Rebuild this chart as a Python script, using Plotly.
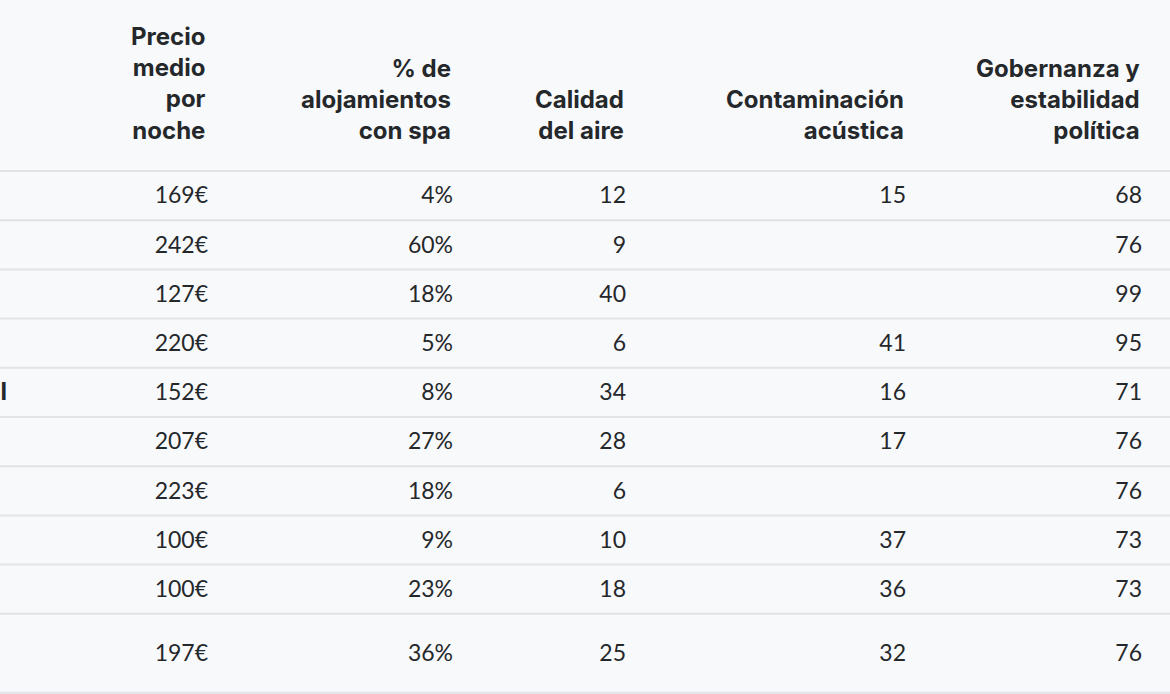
import plotly.graph_objects as go

# ---------------- data ----------------
headers = [
    "Precio<br>medio<br>por<br>noche",
    "% de<br>alojamientos<br>con spa",
    "Calidad<br>del aire",
    "Contaminación<br>acústica",
    "Gobernanza y<br>estabilidad<br>política",
]
precio = [169, 242, 127, 220, 152, 207, 223, 100, 100, 197]
spa_pct = [4, 60, 18, 5, 8, 27, 18, 9, 23, 36]
calidad_aire = [12, 9, 40, 6, 34, 28, 6, 10, 18, 25]
contaminacion = [15, None, None, 41, 16, 17, None, 37, 36, 32]
gobernanza = [68, 76, 99, 95, 71, 76, 76, 73, 73, 76]
# only the tail of the (cropped) first column is visible in the picture
first_col_visible = [None, None, None, None, "al", None, None, None, None, None]

# ---------------- layout constants ----------------
W, H = 1170, 694
BG = "#f8f9fb"
TXT = "#25282b"
LINE = "#e1e3e6"
col_right = [208, 453, 626, 906, 1142]
header_bottom = 171
row_h = [49.2] * 9 + [79]
text_dy = 2  # small downward nudge for vertically centred cell text
header_font = dict(family="Inter, Arial, sans-serif", size=24, color=TXT, weight=700)
cell_font = dict(family="Lato, Arial, sans-serif", size=23, color=TXT, weight=400)

# row boundaries and centres
bounds = [header_bottom]
for h in row_h:
    bounds.append(bounds[-1] + h)
centres = [(bounds[i] + bounds[i + 1]) / 2 + text_dy for i in range(len(row_h))]

columns = [
    [f"{v}€" for v in precio],
    [f"{v}%" for v in spa_pct],
    [str(v) for v in calidad_aire],
    [("" if v is None else str(v)) for v in contaminacion],
    [str(v) for v in gobernanza],
]

fig = go.Figure()

for ci, col in enumerate(columns):
    fig.add_trace(go.Scatter(
        x=[col_right[ci]] * len(col),
        y=centres,
        mode="text",
        text=col,
        textposition="middle left",
        textfont=cell_font,
        hoverinfo="skip",
        showlegend=False,
        cliponaxis=True,
    ))

# cropped first column (only its tail shows at the left edge)
fig.add_trace(go.Scatter(
    x=[7] * len(first_col_visible),
    y=centres,
    mode="text",
    text=[t or "" for t in first_col_visible],
    textposition="middle left",
    textfont=dict(family="Inter, Arial, sans-serif", size=24, color=TXT, weight=700),
    hoverinfo="skip",
    showlegend=False,
    cliponaxis=True,
))

# header annotations (bottom aligned, right aligned)
for ci, htxt in enumerate(headers):
    fig.add_annotation(
        x=col_right[ci], y=header_bottom - 24,
        xref="x", yref="y",
        text=htxt, showarrow=False,
        xanchor="right", yanchor="bottom", align="right",
        font=header_font,
    )

# separators
for b in bounds:
    fig.add_shape(type="line", xref="paper", yref="y",
                  x0=0, x1=1, y0=b, y1=b,
                  line=dict(color=LINE, width=2), layer="below")

fig.update_layout(
    width=W, height=H,
    margin=dict(l=0, r=0, t=0, b=0),
    paper_bgcolor=BG, plot_bgcolor=BG,
    xaxis=dict(range=[0, W], visible=False, fixedrange=True),
    yaxis=dict(range=[H, 0], visible=False, fixedrange=True),
)

fig.write_html(
    "out.html",
    config={"displayModeBar": False},
    post_script="document.body.style.margin='0';document.body.style.overflow='hidden';document.body.style.background='%s';" % BG,
)
